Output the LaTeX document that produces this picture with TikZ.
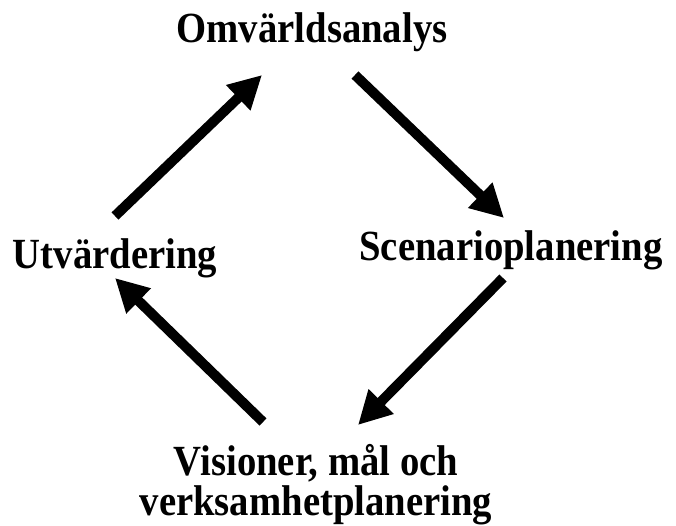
\documentclass[tikz,border=0pt]{standalone}
\usepackage{fontspec}
\setmainfont{Liberation Serif}
\newfontfamily\stagefont[FakeStretch=0.9]{Liberation Serif}
\usetikzlibrary{arrows.meta}

\begin{document}
\begin{tikzpicture}[x=1pt,y=-1pt]
  % Styles
  \tikzstyle{stage}=[font=\stagefont\fontsize{43}{40}\selectfont\bfseries,inner sep=0pt]
  \tikzstyle{flow}=[line width=10pt,-{Triangle[length=33pt,width=33pt]}]

  \useasboundingbox (0,0) rectangle (676,525);

  % The stages
  \node[stage,anchor=base] (omv) at (312,42) {Omvärldsanalys};
  \node[stage,anchor=base] (scen) at (511,260) {Scenarioplanering};
  \node[stage,anchor=base] (utv) at (115,268) {Utvärdering};
  \node[stage,align=center] (vis) at (316,485) {Visioner, mål och\\verksamhetplanering};

  % Arrow ends
  \coordinate (utv out) at (115,216);
  \coordinate (omv in) at (262,75);
  \coordinate (omv out) at (355,75);
  \coordinate (scen in) at (504,218);
  \coordinate (scen out) at (503,278);
  \coordinate (vis in) at (358,425);
  \coordinate (vis out) at (263,422);
  \coordinate (utv in) at (115,278);

  % The cycle
  \draw[flow] (utv out) -- (omv in);
  \draw[flow] (omv out) -- (scen in);
  \draw[flow] (scen out) -- (vis in);
  \draw[flow] (vis out) -- (utv in);
\end{tikzpicture}
\end{document}
